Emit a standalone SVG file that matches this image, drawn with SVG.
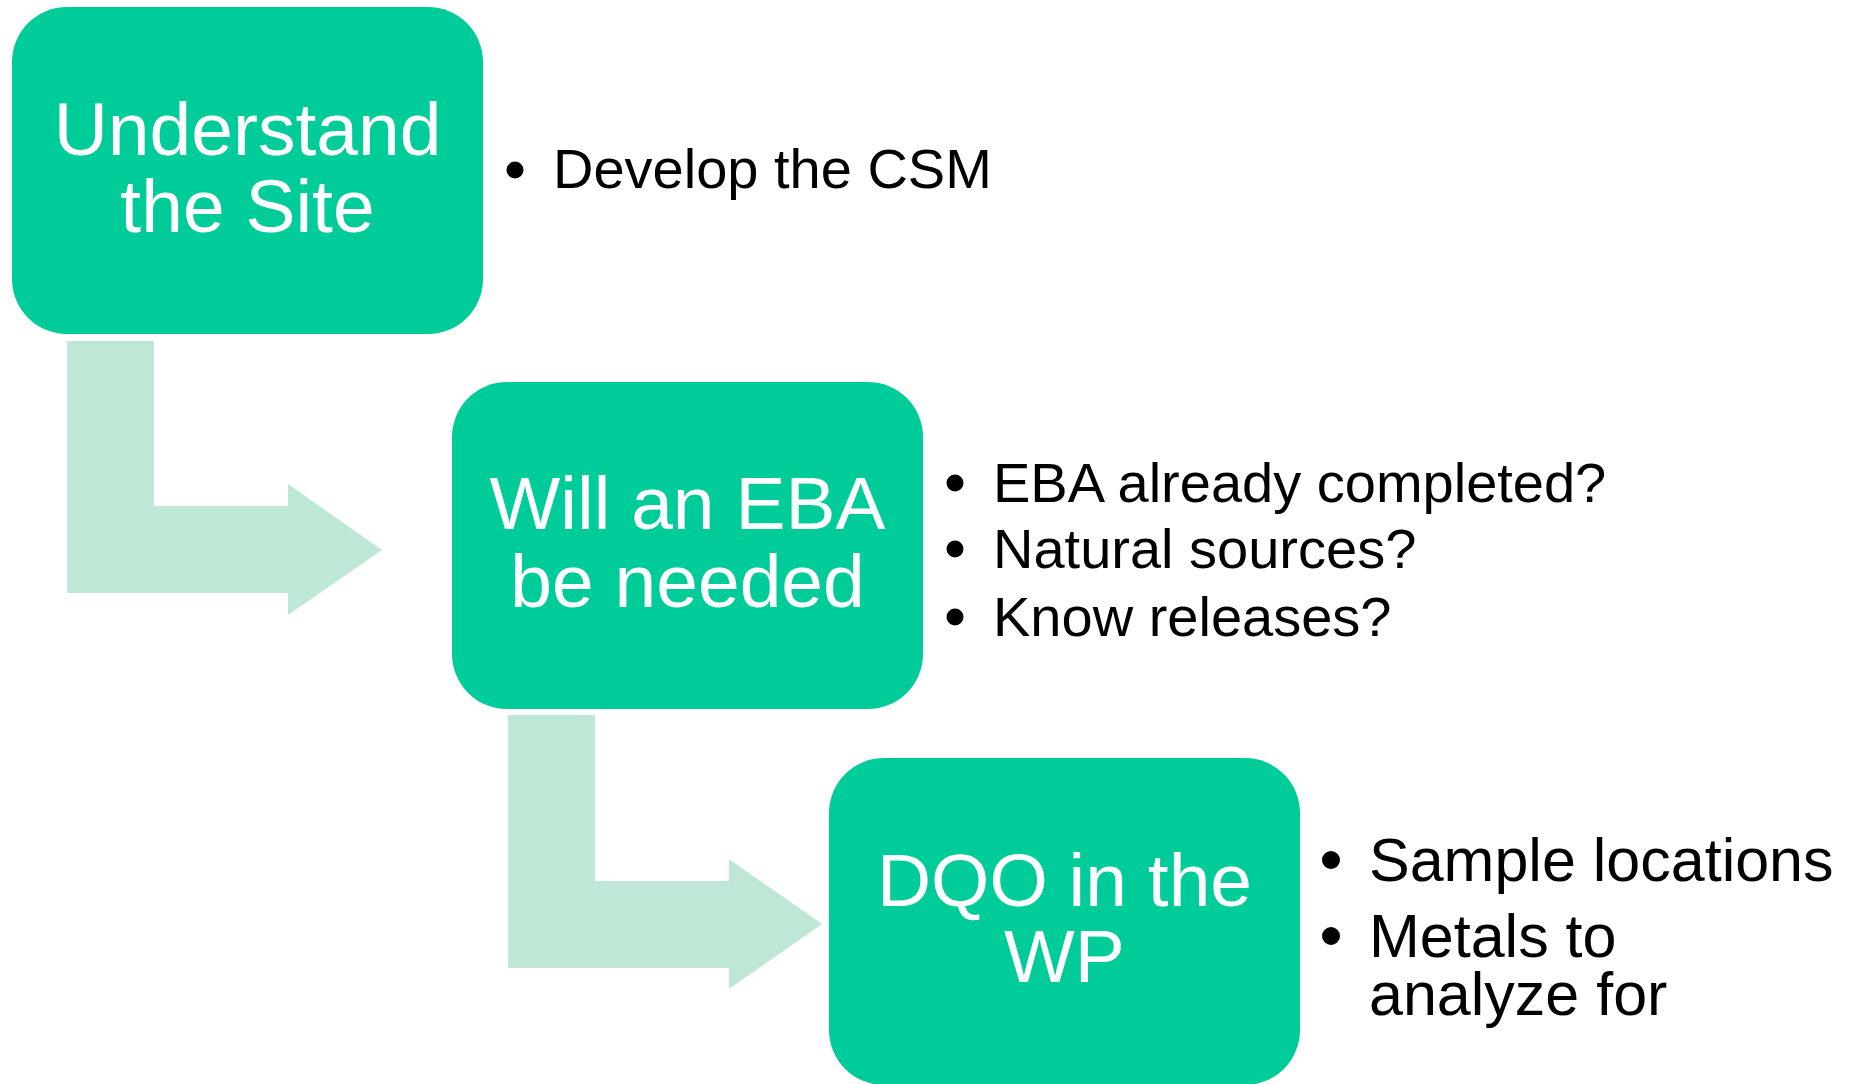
<svg xmlns="http://www.w3.org/2000/svg" width="1856" height="1084" viewBox="0 0 1856 1084">
<style>
.box{fill:#00CC99}
.arrow{fill:#BEE7D5}
.title{font-family:"Liberation Sans",Arial,sans-serif;font-size:75px;fill:#FFFFFF;text-anchor:middle}
.item{font-family:"Liberation Sans",Arial,sans-serif;font-size:56px;fill:#000000}
.item3{font-family:"Liberation Sans",Arial,sans-serif;font-size:61px;fill:#000000}
.bullet{fill:#000000}
</style>
<rect width="1856" height="1084" fill="#FFFFFF"/>
<g id="connectors">
<path class="arrow" d="M67,341 H154 V506 H288 V484 L382,550 L288,615 V593 H67 Z"/>
<path class="arrow" d="M508,715 H595 V881 H729 V859 L822,924 L729,989 V968 H508 Z"/>
</g>
<g id="node-understand">
<rect class="box" x="12" y="7" width="471" height="327" rx="55" ry="55"/>
<text class="title"><tspan x="247.5" y="155">Understand</tspan><tspan x="247.5" y="232">the Site</tspan></text>
<circle class="bullet" cx="515" cy="170" r="8.5"/>
<text class="item" x="553" y="188">Develop the CSM</text>
</g>
<g id="node-eba">
<rect class="box" x="452" y="382" width="471" height="327" rx="55" ry="55"/>
<text class="title"><tspan x="687.5" y="529">Will an EBA</tspan><tspan x="687.5" y="607">be needed</tspan></text>
<circle class="bullet" cx="955" cy="483" r="8.5"/>
<text class="item" x="993" y="502">EBA already completed?</text>
<circle class="bullet" cx="955" cy="549" r="8.5"/>
<text class="item" x="993" y="568">Natural sources?</text>
<circle class="bullet" cx="955" cy="617" r="8.5"/>
<text class="item" x="993" y="636">Know releases?</text>
</g>
<g id="node-dqo">
<rect class="box" x="829" y="758" width="471" height="327" rx="55" ry="55"/>
<text class="title"><tspan x="1064.5" y="906">DQO in the</tspan><tspan x="1064.5" y="982">WP</tspan></text>
<circle class="bullet" cx="1331" cy="860" r="9"/>
<text class="item3" x="1369" y="881">Sample locations</text>
<circle class="bullet" cx="1331" cy="936" r="9"/>
<text class="item3"><tspan x="1369" y="957">Metals to</tspan><tspan x="1369" y="1015">analyze for</tspan></text>
</g>
</svg>
